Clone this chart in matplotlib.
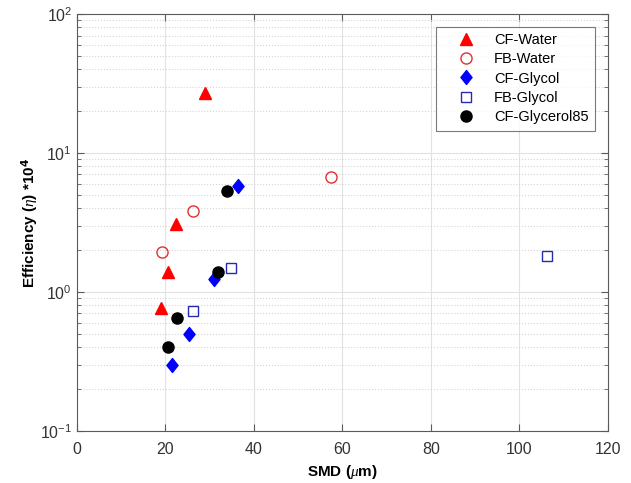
import matplotlib
matplotlib.use("Agg")
import matplotlib.pyplot as plt
from matplotlib.path import Path
from matplotlib.ticker import LogLocator, NullFormatter

# droplet size (SMD, um) and efficiency (x1e4) per nozzle / liquid
cf_water_smd = [28.9, 22.4, 20.6, 19.0]
cf_water_eff = [27.0, 3.1, 1.38, 0.77]

fb_water_smd = [19.2, 26.3, 57.3]
fb_water_eff = [1.95, 3.85, 6.7]

cf_glycol_smd = [36.5, 31.0, 25.3, 21.5]
cf_glycol_eff = [5.8, 1.23, 0.50, 0.30]

fb_glycol_smd = [34.7, 26.3, 106.3]
fb_glycol_eff = [1.48, 0.73, 1.8]

cf_glycerol_smd = [34.0, 31.8, 22.5, 20.5]
cf_glycerol_eff = [5.3, 1.40, 0.65, 0.40]

plt.rcParams['font.family'] = ['Liberation Sans', 'DejaVu Sans']
plt.rcParams['mathtext.fontset'] = 'custom'
plt.rcParams['mathtext.it'] = 'Liberation Serif:italic'

# MATLAB-style diamond: a bit taller than wide
diamond = Path([(0, 1), (0.8, 0), (0, -1), (-0.8, 0), (0, 1)],
               [Path.MOVETO, Path.LINETO, Path.LINETO, Path.LINETO,
                Path.CLOSEPOLY])

fig = plt.figure(figsize=(6.31, 4.83), dpi=100)
ax = fig.add_axes([0.122, 0.108, 0.8415, 0.863])

ax.plot(cf_water_smd, cf_water_eff, '^', color='red', markersize=8,
        linestyle='none', label='CF-Water')
ax.plot(fb_water_smd, fb_water_eff, 'o', markerfacecolor='none',
        markeredgecolor='#e03030', markersize=8, linestyle='none',
        label='FB-Water')
ax.plot(cf_glycol_smd, cf_glycol_eff, marker=diamond, color='#0000ff',
        markersize=10, linestyle='none', label='CF-Glycol')
ax.plot(fb_glycol_smd, fb_glycol_eff, 's', markerfacecolor='none',
        markeredgecolor='#2a2ab0', markersize=6.5, linestyle='none',
        label='FB-Glycol')
ax.plot(cf_glycerol_smd, cf_glycerol_eff, 'o', color='black', markersize=8,
        linestyle='none', label='CF-Glycerol85')

ax.set_yscale('log')
ax.set_xlim(0, 120)
ax.set_ylim(0.1, 100)
ax.set_xticks(range(0, 121, 20))
ax.yaxis.set_minor_locator(LogLocator(base=10, subs=range(2, 10)))
ax.yaxis.set_minor_formatter(NullFormatter())

ax.grid(True, which='major', color='#e2e2e2', linewidth=0.8)
ax.grid(True, which='minor', axis='y', color='#d6d6d6', linestyle=':',
        linewidth=0.8)
ax.set_axisbelow(True)

for s in ax.spines.values():
    s.set_color('#5a5a5a')
    s.set_linewidth(0.8)
ax.tick_params(which='both', direction='in', colors='#5a5a5a',
               labelcolor='#333333', labelsize=11.5, top=True, right=True)
ax.tick_params(which='major', length=5)
ax.tick_params(which='minor', length=3)
ax.tick_params(axis='x', which='major', pad=8)

ax.set_xlabel(r'SMD ($\mu$m)', fontsize=11, fontweight='bold', labelpad=4)
ax.set_ylabel(r'Efficiency ($\eta$) *10$^{\mathbf{4}}$', fontsize=11,
              fontweight='bold', labelpad=0)

leg = ax.legend(loc='upper right', bbox_to_anchor=(0.976, 0.97),
                fontsize=10.5, frameon=True, fancybox=False,
                handletextpad=0.4, borderpad=0.45, labelspacing=0.36,
                handlelength=3.1, borderaxespad=0)
leg.get_frame().set_edgecolor('#5a5a5a')
leg.get_frame().set_linewidth(0.8)

fig.savefig('out.png', dpi=100)
